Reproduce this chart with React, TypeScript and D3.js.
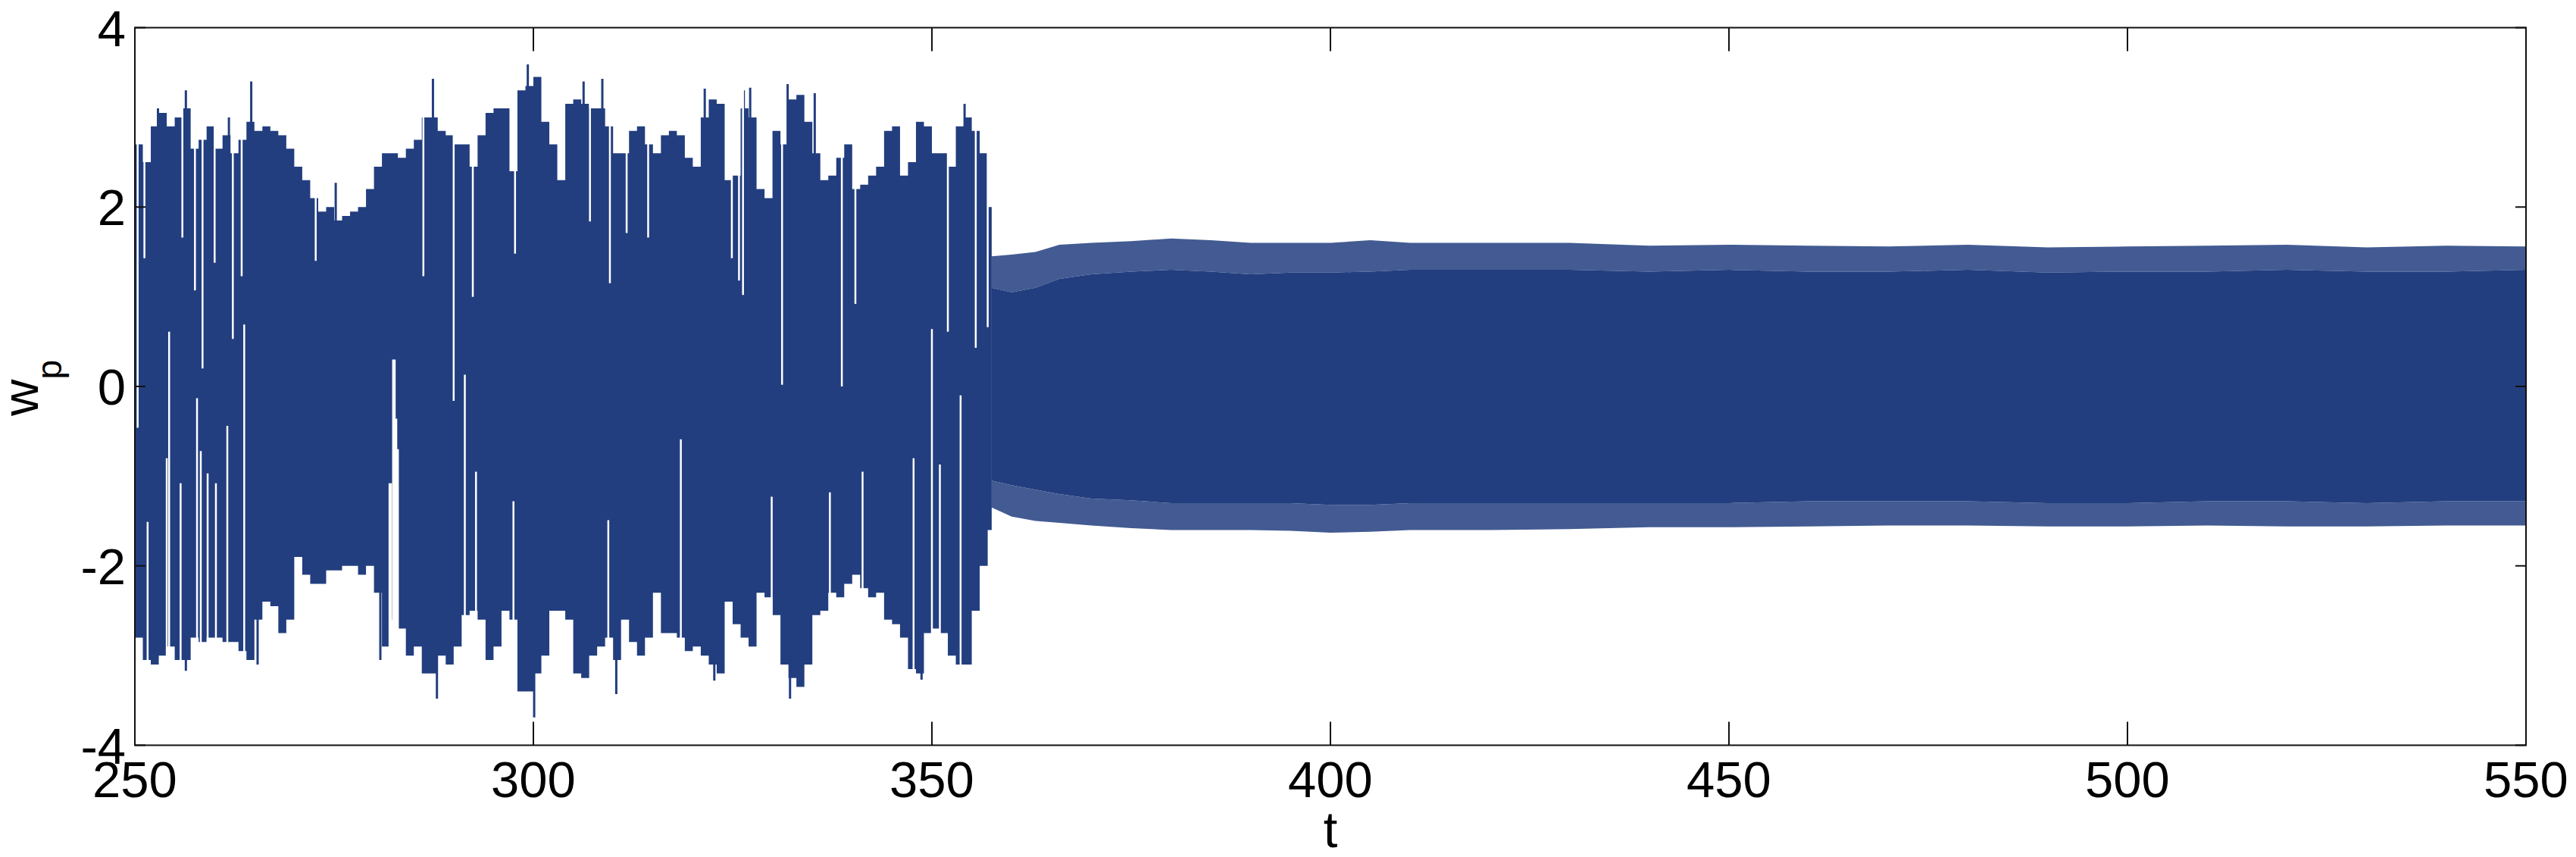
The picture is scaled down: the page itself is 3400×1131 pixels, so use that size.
import * as d3 from "d3"

// chaotic part: one max / min per unit of t, starting at t = 250
const chaosStart = 250
const chaosUpper = [
  2.7, 2.5, 2.9, 3.05, 2.9, 3.0, 3.1, 2.65, 2.75, 2.9,
  2.65, 2.8, 2.6, 2.75, 2.95, 2.85, 2.9, 2.85, 2.8, 2.65,
  2.45, 2.3, 2.1, 1.95, 2.0, 1.85, 1.9, 1.95, 2.0, 2.2,
  2.45, 2.6, 2.6, 2.55, 2.65, 2.75, 3.0, 3.0, 2.85, 2.8,
  2.7, 2.7, 2.45, 2.8, 3.05, 3.1, 3.1, 2.4, 3.3, 3.35,
  3.45, 2.95, 2.7, 2.3, 3.15, 3.2, 3.15, 3.1, 3.1, 2.9,
  2.6, 2.6, 2.85, 2.9, 2.7, 2.6, 2.8, 2.85, 2.8, 2.55,
  2.45, 3.0, 3.2, 3.15, 2.3, 2.35, 3.1, 3.0, 2.2, 2.1,
  2.85, 2.7, 3.2, 3.25, 2.95, 2.6, 2.3, 2.35, 2.55, 2.7,
  2.2, 2.25, 2.35, 2.45, 2.85, 2.9, 2.35, 2.5, 2.95, 2.9,
  2.6, 2.6, 2.45, 2.9, 3.0, 2.85, 2.6, 2.0
]
const chaosLower = [
  -2.8, -3.05, -3.1, -3.0, -2.9, -3.05, -3.05, -2.8, -2.85, -2.8,
  -2.8, -2.85, -2.85, -2.95, -3.05, -2.6, -2.4, -2.45, -2.75, -2.6,
  -1.9, -2.1, -2.2, -2.2, -2.05, -2.05, -2.0, -2.0, -2.1, -2.0,
  -2.3, -2.9, -2.6, -2.7, -3.0, -2.9, -3.2, -3.2, -3.0, -3.1,
  -2.9, -2.55, -2.5, -2.6, -3.05, -2.9, -2.5, -2.6, -3.4, -3.4,
  -3.2, -3.0, -2.5, -2.5, -2.6, -3.2, -3.25, -3.0, -2.9, -2.8,
  -3.05, -2.6, -2.85, -3.0, -2.8, -2.3, -2.75, -2.75, -2.8, -2.95,
  -2.9, -3.0, -3.1, -3.2, -2.4, -2.65, -2.8, -2.9, -2.3, -2.35,
  -2.55, -3.1, -3.25, -3.35, -3.1, -2.55, -2.5, -2.3, -2.35, -2.2,
  -2.1, -2.25, -2.35, -2.3, -2.6, -2.65, -2.8, -3.15, -3.2, -2.75,
  -2.7, -2.75, -3.0, -3.1, -3.1, -2.5, -2.0, -1.6
]
const chaosEnd = 357.5

// thin tall peaks inside the chaotic part
const peakUpT = [252.9, 256.4, 261.8, 264.6, 275.2, 287.4, 299.3, 306.3, 308.65, 321.5, 326.4, 327.2, 331.9, 335.3, 354.1]
const peakUpV = [3.1, 3.3, 3.0, 3.4, 2.27, 3.43, 3.59, 3.4, 3.43, 3.32, 3.3, 3.33, 3.37, 3.27, 3.15]
const peakDownT = [256.4, 265.4, 280.8, 287.9, 300.1, 310.4, 322.7, 332.2, 348.7]
const peakDownV = [-3.17, -3.1, -3.05, -3.48, -3.69, -3.43, -3.28, -3.48, -3.27]

// white gaps cut into the band from the top and from the bottom
const gapTopT = [250.35, 251.2, 255.96, 257.54, 258.49, 260.01, 262.29, 263.4, 272.69, 286.2, 290.0, 292.4, 297.7, 307.1, 309.6, 311.7, 314.4, 324.9, 325.8, 326.3, 331.2, 338.7, 340.4, 352.0, 355.5, 357.0]
const gapTopV = [-0.46, 1.43, 1.66, 1.07, 0.2, 1.38, 0.53, 1.23, 1.4, 1.23, -0.16, 1.0, 1.48, 1.84, 1.15, 1.71, 1.66, 1.43, 1.18, 1.02, 0.02, 0.0, 0.92, 0.61, 0.43, 0.66]
const gapBottomT = [251.6, 254.0, 254.3, 255.74, 257.8, 258.27, 259.13, 260.17, 261.6, 263.72, 281.95, 282.15, 282.4, 282.6, 282.8, 283.0, 291.4, 292.8, 297.5, 309.4, 318.5, 329.9, 337.2, 341.3, 347.7, 350.0, 351.0, 353.6]
const gapBottomV = [-1.51, -0.8, 0.61, -1.08, -0.13, -0.72, -0.97, -1.08, -0.44, 0.69, -1.08, -1.08, 0.3, 0.3, -0.36, -0.7, 0.13, -0.95, -1.28, -1.49, -0.59, -1.23, -1.18, -0.95, -0.8, 0.64, -0.87, -0.1]

// regular oscillation after the transition: tips and valleys of the envelope
const regT = [357.5, 360, 363, 366, 370, 375, 380, 385, 390, 395, 400, 405, 410, 420, 430, 440, 450, 460, 470, 480, 490, 500, 510, 520, 530, 540, 550]
const regUpperTip = [1.45, 1.47, 1.5, 1.58, 1.6, 1.62, 1.65, 1.63, 1.6, 1.6, 1.6, 1.63, 1.6, 1.6, 1.6, 1.57, 1.58, 1.57, 1.56, 1.58, 1.55, 1.56, 1.57, 1.58, 1.55, 1.57, 1.56]
const regUpperValley = [1.1, 1.05, 1.1, 1.2, 1.25, 1.28, 1.3, 1.28, 1.25, 1.27, 1.27, 1.28, 1.3, 1.3, 1.3, 1.28, 1.3, 1.28, 1.28, 1.3, 1.27, 1.28, 1.28, 1.3, 1.28, 1.28, 1.3]
const regLowerValley = [-1.05, -1.1, -1.15, -1.2, -1.25, -1.27, -1.3, -1.3, -1.3, -1.3, -1.32, -1.32, -1.3, -1.3, -1.3, -1.3, -1.3, -1.28, -1.28, -1.28, -1.3, -1.3, -1.28, -1.28, -1.3, -1.28, -1.28]
const regLowerTip = [-1.35, -1.45, -1.5, -1.52, -1.55, -1.58, -1.6, -1.6, -1.6, -1.61, -1.63, -1.62, -1.6, -1.6, -1.59, -1.57, -1.57, -1.56, -1.55, -1.55, -1.56, -1.56, -1.55, -1.56, -1.56, -1.55, -1.55]

const xTicks = [250, 300, 350, 400, 450, 500, 550]
const yTicks = [-4, -2, 0, 2, 4]

const W = 3400
const H = 1131
const left = 178, right = 3334, top = 36.5, bottom = 983.5
const blue = "#223e7f"
const font = "'Liberation Sans', Arial, sans-serif"

export default function App() {
  const x = d3.scaleLinear().domain([250, 550]).range([left, right])
  const y = d3.scaleLinear().domain([-4, 4]).range([bottom, top])

  const bins = chaosUpper.map((hi, i) => ({ t: chaosStart + i, hi, lo: chaosLower[i] }))
  bins.push({ t: chaosEnd, hi: bins[bins.length - 1].hi, lo: bins[bins.length - 1].lo })

  const stepArea = d3.area()
    .x(d => x(d.t))
    .y0(d => y(d.lo))
    .y1(d => y(d.hi))
    .curve(d3.curveStepAfter)

  const band = (a, b) => d3.area()
    .x((d, i) => x(regT[i]))
    .y0((d, i) => y(a[i]))
    .y1((d, i) => y(b[i]))(regT)

  return (
    <svg width={W} height={H} style={{ position: "absolute", left: 0, top: 0, background: "#fff" }}>
      <rect x={0} y={0} width={W} height={H} fill="#fff" />

      <path d={stepArea(bins)} fill={blue} />
      <path d={band(regLowerValley, regUpperValley)} fill={blue} />
      <path d={band(regUpperValley, regUpperTip)} fill={blue} fillOpacity={0.85} />
      <path d={band(regLowerTip, regLowerValley)} fill={blue} fillOpacity={0.85} />

      <g stroke={blue} strokeWidth={3}>
        {peakUpT.map((t, i) => <line key={"pu" + i} x1={x(t)} x2={x(t)} y1={y(0)} y2={y(peakUpV[i])} />)}
        {peakDownT.map((t, i) => <line key={"pd" + i} x1={x(t)} x2={x(t)} y1={y(0)} y2={y(peakDownV[i])} />)}
      </g>

      <g stroke="#fff" strokeWidth={2.5}>
        {gapTopT.map((t, i) => <line key={"gt" + i} x1={x(t)} x2={x(t)} y1={y(4)} y2={y(gapTopV[i])} />)}
        {gapBottomT.map((t, i) => <line key={"gb" + i} x1={x(t)} x2={x(t)} y1={y(-4)} y2={y(gapBottomV[i])} />)}
      </g>

      <g stroke="#111" strokeWidth={2}>
        {xTicks.map(t => (
          <g key={"xt" + t}>
            <line x1={x(t)} x2={x(t)} y1={bottom} y2={bottom - 31} />
            <line x1={x(t)} x2={x(t)} y1={top} y2={top + 31} />
          </g>
        ))}
        {yTicks.map(v => (
          <g key={"yt" + v}>
            <line x1={left} x2={left + 14} y1={y(v)} y2={y(v)} />
            <line x1={right} x2={right - 14} y1={y(v)} y2={y(v)} />
          </g>
        ))}
        <rect x={left} y={top} width={right - left} height={bottom - top} fill="none" />
      </g>

      <g fontFamily={font} fontSize={67} fill="#000">
        {xTicks.map(t => (
          <text key={"xl" + t} x={x(t)} y={1052} textAnchor="middle">{t}</text>
        ))}
        {yTicks.map(v => (
          <text key={"yl" + v} x={166} y={y(v) + 24} textAnchor="end">{v}</text>
        ))}
        <text x={(left + right) / 2} y={1118} textAnchor="middle">t</text>
        <text transform="translate(50,512) rotate(-90)" textAnchor="middle">
          w<tspan fontSize={46} dy={31}>p</tspan>
        </text>
      </g>
    </svg>
  )
}
